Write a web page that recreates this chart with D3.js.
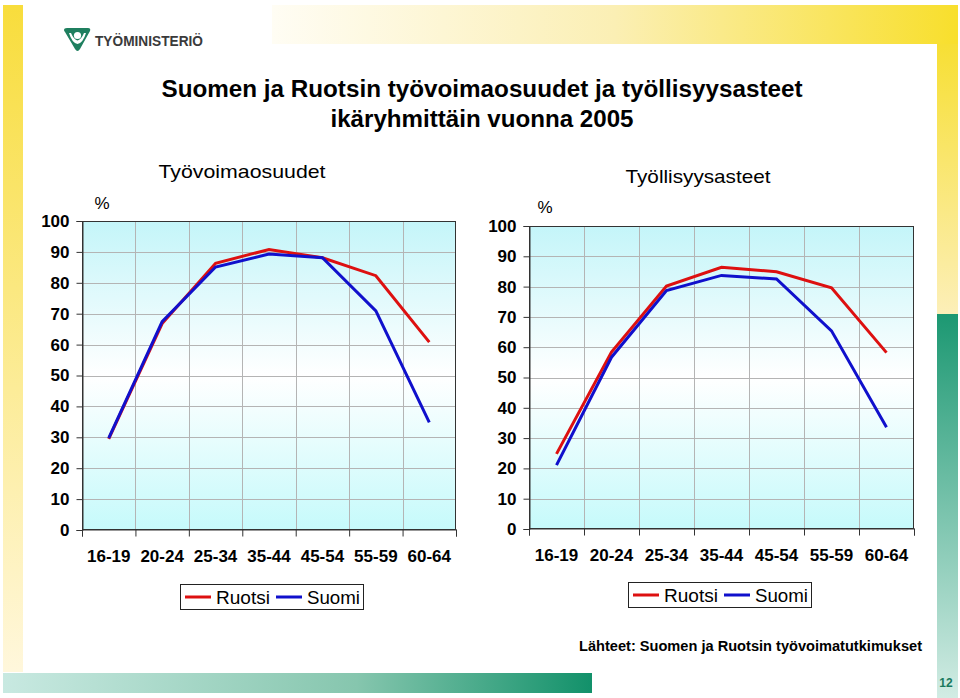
<!DOCTYPE html>
<html><head><meta charset="utf-8">
<script src="https://cdn.jsdelivr.net/npm/d3@7"></script>
<style>body{margin:0;background:#fff}svg{display:block;font-family:"Liberation Sans",Arial,sans-serif}</style>
</head><body><svg id="c" width="960" height="698"></svg>
<script>
const categories = ["16-19","20-24","25-34","35-44","45-54","55-59","60-64"];
const laborRuotsi = [29.5, 66.8, 86.3, 90.8, 88.1, 82.3, 60.8];
const laborSuomi  = [29.7, 67.4, 85.1, 89.3, 88.1, 70.9, 34.8];
const empRuotsi   = [24.8, 58.4, 80.2, 86.4, 84.9, 79.6, 58.2];
const empSuomi    = [21.1, 56.7, 78.7, 83.7, 82.5, 65.4, 33.6];
const yTicks = [0,10,20,30,40,50,60,70,80,90,100];
const seriesNames = ["Ruotsi","Suomi"];
const seriesColors = ["#dd1010","#1010cc"];
const titleLines = ["Suomen ja Ruotsin työvoimaosuudet ja työllisyysasteet","ikäryhmittäin vuonna 2005"];
const panelTitles = ["Työvoimaosuudet","Työllisyysasteet"];
const sourceText = "Lähteet: Suomen ja Ruotsin työvoimatutkimukset";

const svg = d3.select("#c");
const defs = svg.append("defs");
function lin(id, x1,y1,x2,y2, stops){
  const g = defs.append("linearGradient").attr("id",id).attr("x1",x1).attr("y1",y1).attr("x2",x2).attr("y2",y2);
  stops.forEach(s=>g.append("stop").attr("offset",s[0]).attr("stop-color",s[1]));
}
lin("gLeft",0,0,0,1,[[0,"#f8dd3c"],[1,"#fff7dc"]]);
lin("gTop",0,0,1,0,[[0,"#fffdf4"],[0.5,"#fbefb4"],[1,"#f8df2c"]]);
lin("gRY",0,0,0,1,[[0,"#f7df34"],[1,"#fcefb8"]]);
lin("gRG",0,0,0,1,[[0,"#1c9872"],[1,"#d2ece4"]]);
lin("gBot",0,0,1,0,[[0,"#c8e9e1"],[0.6,"#86c6ae"],[1,"#12916a"]]);
lin("gPlot",0,0,0,1,[[0,"#c4f5f9"],[0.5,"#ffffff"],[1,"#c6fafb"]]);

// decorations
svg.append("rect").attr("x",3).attr("y",5).attr("width",20).attr("height",667).attr("fill","url(#gLeft)");
svg.append("rect").attr("x",272).attr("y",5).attr("width",686).attr("height",39).attr("fill","url(#gTop)");
svg.append("rect").attr("x",937).attr("y",44).attr("width",21).attr("height",270).attr("fill","url(#gRY)");
svg.append("rect").attr("x",937).attr("y",314).attr("width",21).attr("height",384).attr("fill","url(#gRG)");
svg.append("rect").attr("x",3).attr("y",673).attr("width",589).attr("height",20).attr("fill","url(#gBot)");
svg.append("text").attr("x",946).attr("y",687).attr("text-anchor","middle").attr("font-size",12).attr("font-weight","bold").attr("fill","#1a7a5e").text("12");

// logo
const logo = svg.append("g");
logo.append("path").attr("d","M64,30 Q64,28 67,28 L88,28 Q91,28 90,31 L80,49 Q77.5,53 75,49 L65,32 Q64,31 64,30 Z").attr("fill","#1f7f5f");
logo.append("circle").attr("cx",77.5).attr("cy",35.5).attr("r",3.6).attr("fill","#fff");
logo.append("path").attr("d","M69,33 Q72,43 77.5,44 Q83,43 86,33 L84,33 Q81,40 77.5,40.5 Q74,40 71,33 Z").attr("fill","#fff");
logo.append("text").attr("x",95).attr("y",46).attr("font-size",14).attr("font-weight","bold").attr("fill","#3a3a3a")
  .attr("textLength",108).attr("lengthAdjust","spacingAndGlyphs").text("TYÖMINISTERIÖ");

// main title
svg.append("text").attr("x",482).attr("y",97).attr("text-anchor","middle").attr("font-size",23).attr("font-weight","bold")
  .attr("textLength",641).attr("lengthAdjust","spacingAndGlyphs").text(titleLines[0]);
svg.append("text").attr("x",482).attr("y",127).attr("text-anchor","middle").attr("font-size",23).attr("font-weight","bold")
  .attr("textLength",303).attr("lengthAdjust","spacingAndGlyphs").text(titleLines[1]);

svg.append("text").attr("x",579).attr("y",651).attr("font-size",14.5).attr("font-weight","bold")
  .attr("textLength",343).attr("lengthAdjust","spacingAndGlyphs").text(sourceText);

function panel(cfg){
  const g = svg.append("g");
  const x = d3.scaleBand().domain(categories).range([cfg.x0,cfg.x1]).padding(0);
  const xb = d3.scaleLinear().domain([0,categories.length]).range([cfg.x0,cfg.x1]);
  const y = d3.scaleLinear().domain([0,100]).range([cfg.y1,cfg.y0]);
  g.append("rect").attr("x",cfg.x0).attr("y",cfg.y0).attr("width",cfg.x1-cfg.x0).attr("height",cfg.y1-cfg.y0).attr("fill","url(#gPlot)");
  // grid
  g.append("g").selectAll("line").data(yTicks.slice(1,-1)).join("line")
    .attr("x1",cfg.x0).attr("x2",cfg.x1).attr("y1",d=>Math.round(y(d))+0.5).attr("y2",d=>Math.round(y(d))+0.5)
    .attr("stroke","#b4b4b4").attr("stroke-width",1);
  g.append("g").selectAll("line").data(d3.range(1,categories.length)).join("line")
    .attr("y1",cfg.y0).attr("y2",cfg.y1).attr("x1",d=>Math.round(xb(d))+0.5).attr("x2",d=>Math.round(xb(d))+0.5)
    .attr("stroke","#b4b4b4").attr("stroke-width",1);
  g.append("rect").attr("x",cfg.x0+0.5).attr("y",cfg.y0+0.5).attr("width",cfg.x1-cfg.x0-1).attr("height",cfg.y1-cfg.y0-1)
    .attr("fill","none").attr("stroke","#333").attr("stroke-width",1);
  // y axis
  const ya = g.append("g").attr("transform",`translate(${cfg.x0+0.5},0)`)
    .call(d3.axisLeft(y).tickValues(yTicks).tickSize(6).tickPadding(7));
  ya.select(".domain").attr("stroke","#333");
  ya.selectAll(".tick line").attr("stroke","#333");
  ya.selectAll("text").attr("font-size",17).attr("font-weight","bold").attr("fill","#000").attr("font-family","Liberation Sans, Arial, sans-serif");
  // x axis
  const xa = g.append("g").attr("transform",`translate(0,${cfg.y1-0.5})`)
    .call(d3.axisBottom(xb).tickValues(d3.range(0,categories.length+1)).tickSize(7).tickFormat(""));
  xa.select(".domain").attr("stroke","#333");
  xa.selectAll(".tick line").attr("stroke","#333");
  g.append("g").selectAll("text").data(categories).join("text")
    .attr("x",d=>x(d)+x.bandwidth()/2).attr("y",cfg.y1+32).attr("text-anchor","middle")
    .attr("font-size",17).attr("font-weight","bold").text(d=>d);
  // titles
  g.append("text").attr("x",cfg.tx).attr("y",cfg.ty).attr("text-anchor","middle").attr("font-size",19)
    .attr("textLength",cfg.tw).attr("lengthAdjust","spacingAndGlyphs").text(cfg.title);
  g.append("text").attr("x",cfg.px).attr("y",cfg.py).attr("text-anchor","middle").attr("font-size",17).text("%");
  // lines
  const line = d3.line().x((d,i)=>x(categories[i])+x.bandwidth()/2).y(d=>y(d));
  cfg.series.forEach((s,k)=>{
    g.append("path").datum(s).attr("d",line).attr("fill","none").attr("stroke",seriesColors[k])
      .attr("stroke-width",3).attr("stroke-linejoin","miter");
  });
  // legend
  const lg = g.append("g").attr("transform",`translate(${cfg.lx},${cfg.ly})`);
  lg.append("rect").attr("x",0.5).attr("y",0.5).attr("width",183).attr("height",25).attr("fill","#fff").attr("stroke","#222");
  const lpos = [[5,36,54],[96,127,53]];
  seriesNames.forEach((n,k)=>{
    lg.append("line").attr("x1",lpos[k][0]).attr("x2",lpos[k][0]+26).attr("y1",13).attr("y2",13).attr("stroke",seriesColors[k]).attr("stroke-width",3);
    lg.append("text").attr("x",lpos[k][1]).attr("y",19.5).attr("font-size",18)
      .attr("textLength",lpos[k][2]).attr("lengthAdjust","spacingAndGlyphs").text(n);
  });
}

panel({x0:82,x1:456,y0:221,y1:530,title:panelTitles[0],tx:242,ty:178,tw:167,px:102,py:209,
  series:[laborRuotsi,laborSuomi],lx:180,ly:584});
panel({x0:529,x1:914,y0:226,y1:529,title:panelTitles[1],tx:698,ty:183,tw:145,px:545,py:213,
  series:[empRuotsi,empSuomi],lx:628,ly:582});
</script></body></html>
